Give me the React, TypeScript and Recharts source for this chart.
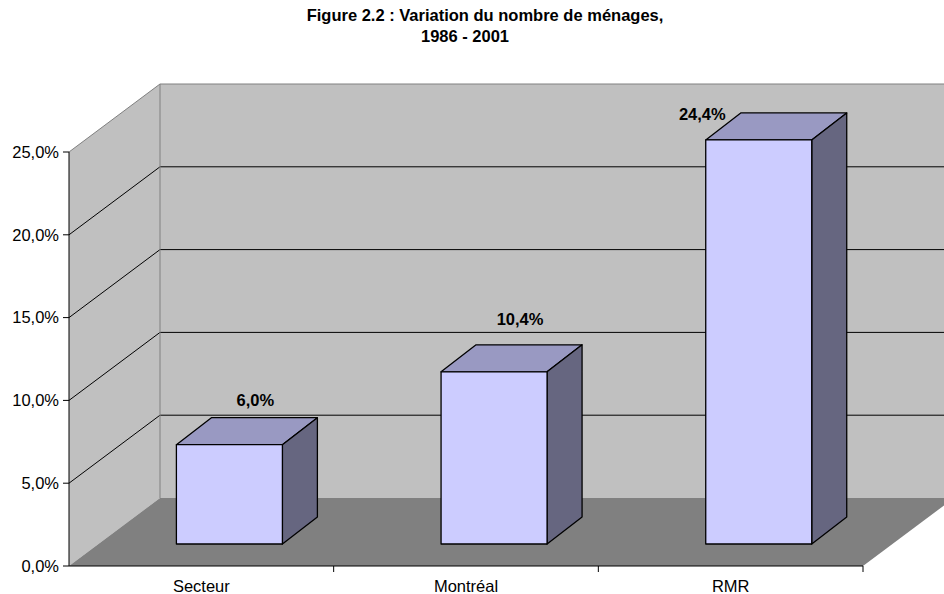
import React from "react";
import { BarChart, Bar, XAxis, YAxis, LabelList } from "recharts";

// Chart data
const categories = ["Secteur", "Montréal", "RMR"];
const values = [6.0, 10.4, 24.4];
const yTicks = [0, 5, 10, 15, 20, 25];
const titleLines = ["Figure 2.2 : Variation du nombre de ménages,", "1986 - 2001"];

const data = categories.map((name, i) => ({ name, value: values[i] }));

// Layout of the fake 3D box
const W = 944;
const H = 594;
const PLOT_LEFT = 69;
const PLOT_RIGHT = 863;
const PLOT_TOP = 152;
const PLOT_BOTTOM = 566;
const Y_MAX = 25;
const DEPTH_X = 91; // back wall offset
const DEPTH_Y = 68;
const BAR_SHIFT_X = 28; // bars stand part way into the floor
const BAR_SHIFT_Y = 22;
const BAR_DEPTH_X = 35;
const BAR_DEPTH_Y = 27;
const FONT = "'Liberation Sans', Arial, sans-serif";
const FS = 16.5;

const fmt = (v: number) => v.toFixed(1).replace(".", ",") + "%";
const yPos = (v: number) =>
  PLOT_BOTTOM - (v / Y_MAX) * (PLOT_BOTTOM - PLOT_TOP);

// Walls, floor and gridlines drawn behind the chart
const Backdrop = () => {
  const backTop = PLOT_TOP - DEPTH_Y;
  const backBottom = PLOT_BOTTOM - DEPTH_Y;
  const backLeft = PLOT_LEFT + DEPTH_X;
  const farRight = PLOT_RIGHT + DEPTH_X;
  const band = (PLOT_RIGHT - PLOT_LEFT) / categories.length;
  return (
    <svg width={W} height={H} style={{ position: "absolute", left: 0, top: 0 }}>
      <polygon
        points={`${PLOT_LEFT},${PLOT_TOP} ${backLeft},${backTop} ${backLeft},${backBottom} ${PLOT_LEFT},${PLOT_BOTTOM}`}
        fill="#C0C0C0"
      />
      <rect x={backLeft} y={backTop} width={farRight - backLeft} height={backBottom - backTop} fill="#C0C0C0" />
      <polygon
        points={`${PLOT_LEFT},${PLOT_BOTTOM} ${backLeft},${backBottom} ${farRight},${backBottom} ${PLOT_RIGHT},${PLOT_BOTTOM}`}
        fill="#808080"
      />
      {yTicks
        .filter((t) => t > 0 && t < Y_MAX)
        .map((t) => {
          const y = yPos(t);
          return (
            <g key={t}>
              <line x1={PLOT_LEFT} y1={y} x2={backLeft} y2={y - DEPTH_Y} stroke="#000" />
              <line x1={backLeft} y1={y - DEPTH_Y} x2={farRight} y2={y - DEPTH_Y} stroke="#000" />
            </g>
          );
        })}
      {/* gray edges */}
      <line x1={PLOT_LEFT} y1={PLOT_TOP} x2={backLeft} y2={backTop} stroke="#808080" />
      <line x1={backLeft} y1={backTop} x2={farRight} y2={backTop} stroke="#808080" />
      <line x1={backLeft} y1={backTop} x2={backLeft} y2={backBottom} stroke="#808080" />
      {/* category boundary ticks */}
      {categories.map((c, i) => {
        const x = PLOT_LEFT + band * (i + 1);
        return <line key={c} x1={x} y1={PLOT_BOTTOM} x2={x} y2={PLOT_BOTTOM + 6} stroke="#000" />;
      })}
      <text x={485} y={21} textAnchor="middle" fontFamily={FONT} fontSize={FS} fontWeight="bold">
        {titleLines[0]}
      </text>
      <text x={465} y={42} textAnchor="middle" fontFamily={FONT} fontSize={FS} fontWeight="bold">
        {titleLines[1]}
      </text>
    </svg>
  );
};

// 3D box for each bar
const Box3D = (props: any) => {
  const { x, y, width, height } = props;
  const fx = x + BAR_SHIFT_X;
  const fy = y - BAR_SHIFT_Y;
  const fb = y + height - BAR_SHIFT_Y;
  const r = fx + width;
  return (
    <g stroke="#000" strokeWidth={1.3} strokeLinejoin="round">
      <polygon
        points={`${fx},${fy} ${fx + BAR_DEPTH_X},${fy - BAR_DEPTH_Y} ${r + BAR_DEPTH_X},${fy - BAR_DEPTH_Y} ${r},${fy}`}
        fill="#9999C2"
      />
      <polygon
        points={`${r},${fy} ${r + BAR_DEPTH_X},${fy - BAR_DEPTH_Y} ${r + BAR_DEPTH_X},${fb - BAR_DEPTH_Y} ${r},${fb}`}
        fill="#666680"
      />
      <rect x={fx} y={fy} width={width} height={fb - fy} fill="#CCCCFF" />
    </g>
  );
};

const renderLabel = (props: any) => {
  const { x, y, width, value } = props;
  const fx = x + BAR_SHIFT_X;
  const fy = y - BAR_SHIFT_Y;
  let lx = fx + width / 2 + 26;
  let ly = fy - (34.5 + 1.75 * value);
  let anchor = "middle";
  // no room above the box: put it to the left of the top face
  if (ly < PLOT_TOP - DEPTH_Y + 10) {
    lx = fx + 20;
    ly = fy - 26;
    anchor = "end";
  }
  return (
    <text
      x={lx}
      y={ly}
      dy="0.36em"
      textAnchor={anchor}
      fontFamily={FONT}
      fontSize={FS}
      fontWeight="bold"
      fill="#000"
    >
      {fmt(value)}
    </text>
  );
};

const App = () => {
  return (
    <div style={{ position: "absolute", left: 0, top: 0, width: W, height: H, background: "#fff" }}>
      <Backdrop />
      <div style={{ position: "absolute", left: 0, top: 0 }}>
        <BarChart
          width={W}
          height={H}
          data={data}
          margin={{ top: PLOT_TOP, right: W - PLOT_RIGHT, bottom: 0, left: 0 }}
          barCategoryGap="30%"
        >
          <XAxis
            dataKey="name"
            height={H - PLOT_BOTTOM}
            axisLine={{ stroke: "#000" }}
            tickLine={false}
            tickSize={6}
            tickMargin={8}
            tick={{ fontSize: FS, fill: "#000", fontFamily: FONT }}
          />
          <YAxis
            width={PLOT_LEFT}
            domain={[0, Y_MAX]}
            ticks={yTicks}
            interval={0}
            tickFormatter={fmt}
            axisLine={{ stroke: "#000" }}
            tickLine={{ stroke: "#000" }}
            tickSize={6}
            tickMargin={4}
            tick={{ fontSize: FS, fill: "#000", fontFamily: FONT }}
          />
          <Bar dataKey="value" shape={(p: any) => <Box3D {...p} />} isAnimationActive={false}>
            <LabelList dataKey="value" content={renderLabel} />
          </Bar>
        </BarChart>
      </div>
    </div>
  );
};

export default App;
